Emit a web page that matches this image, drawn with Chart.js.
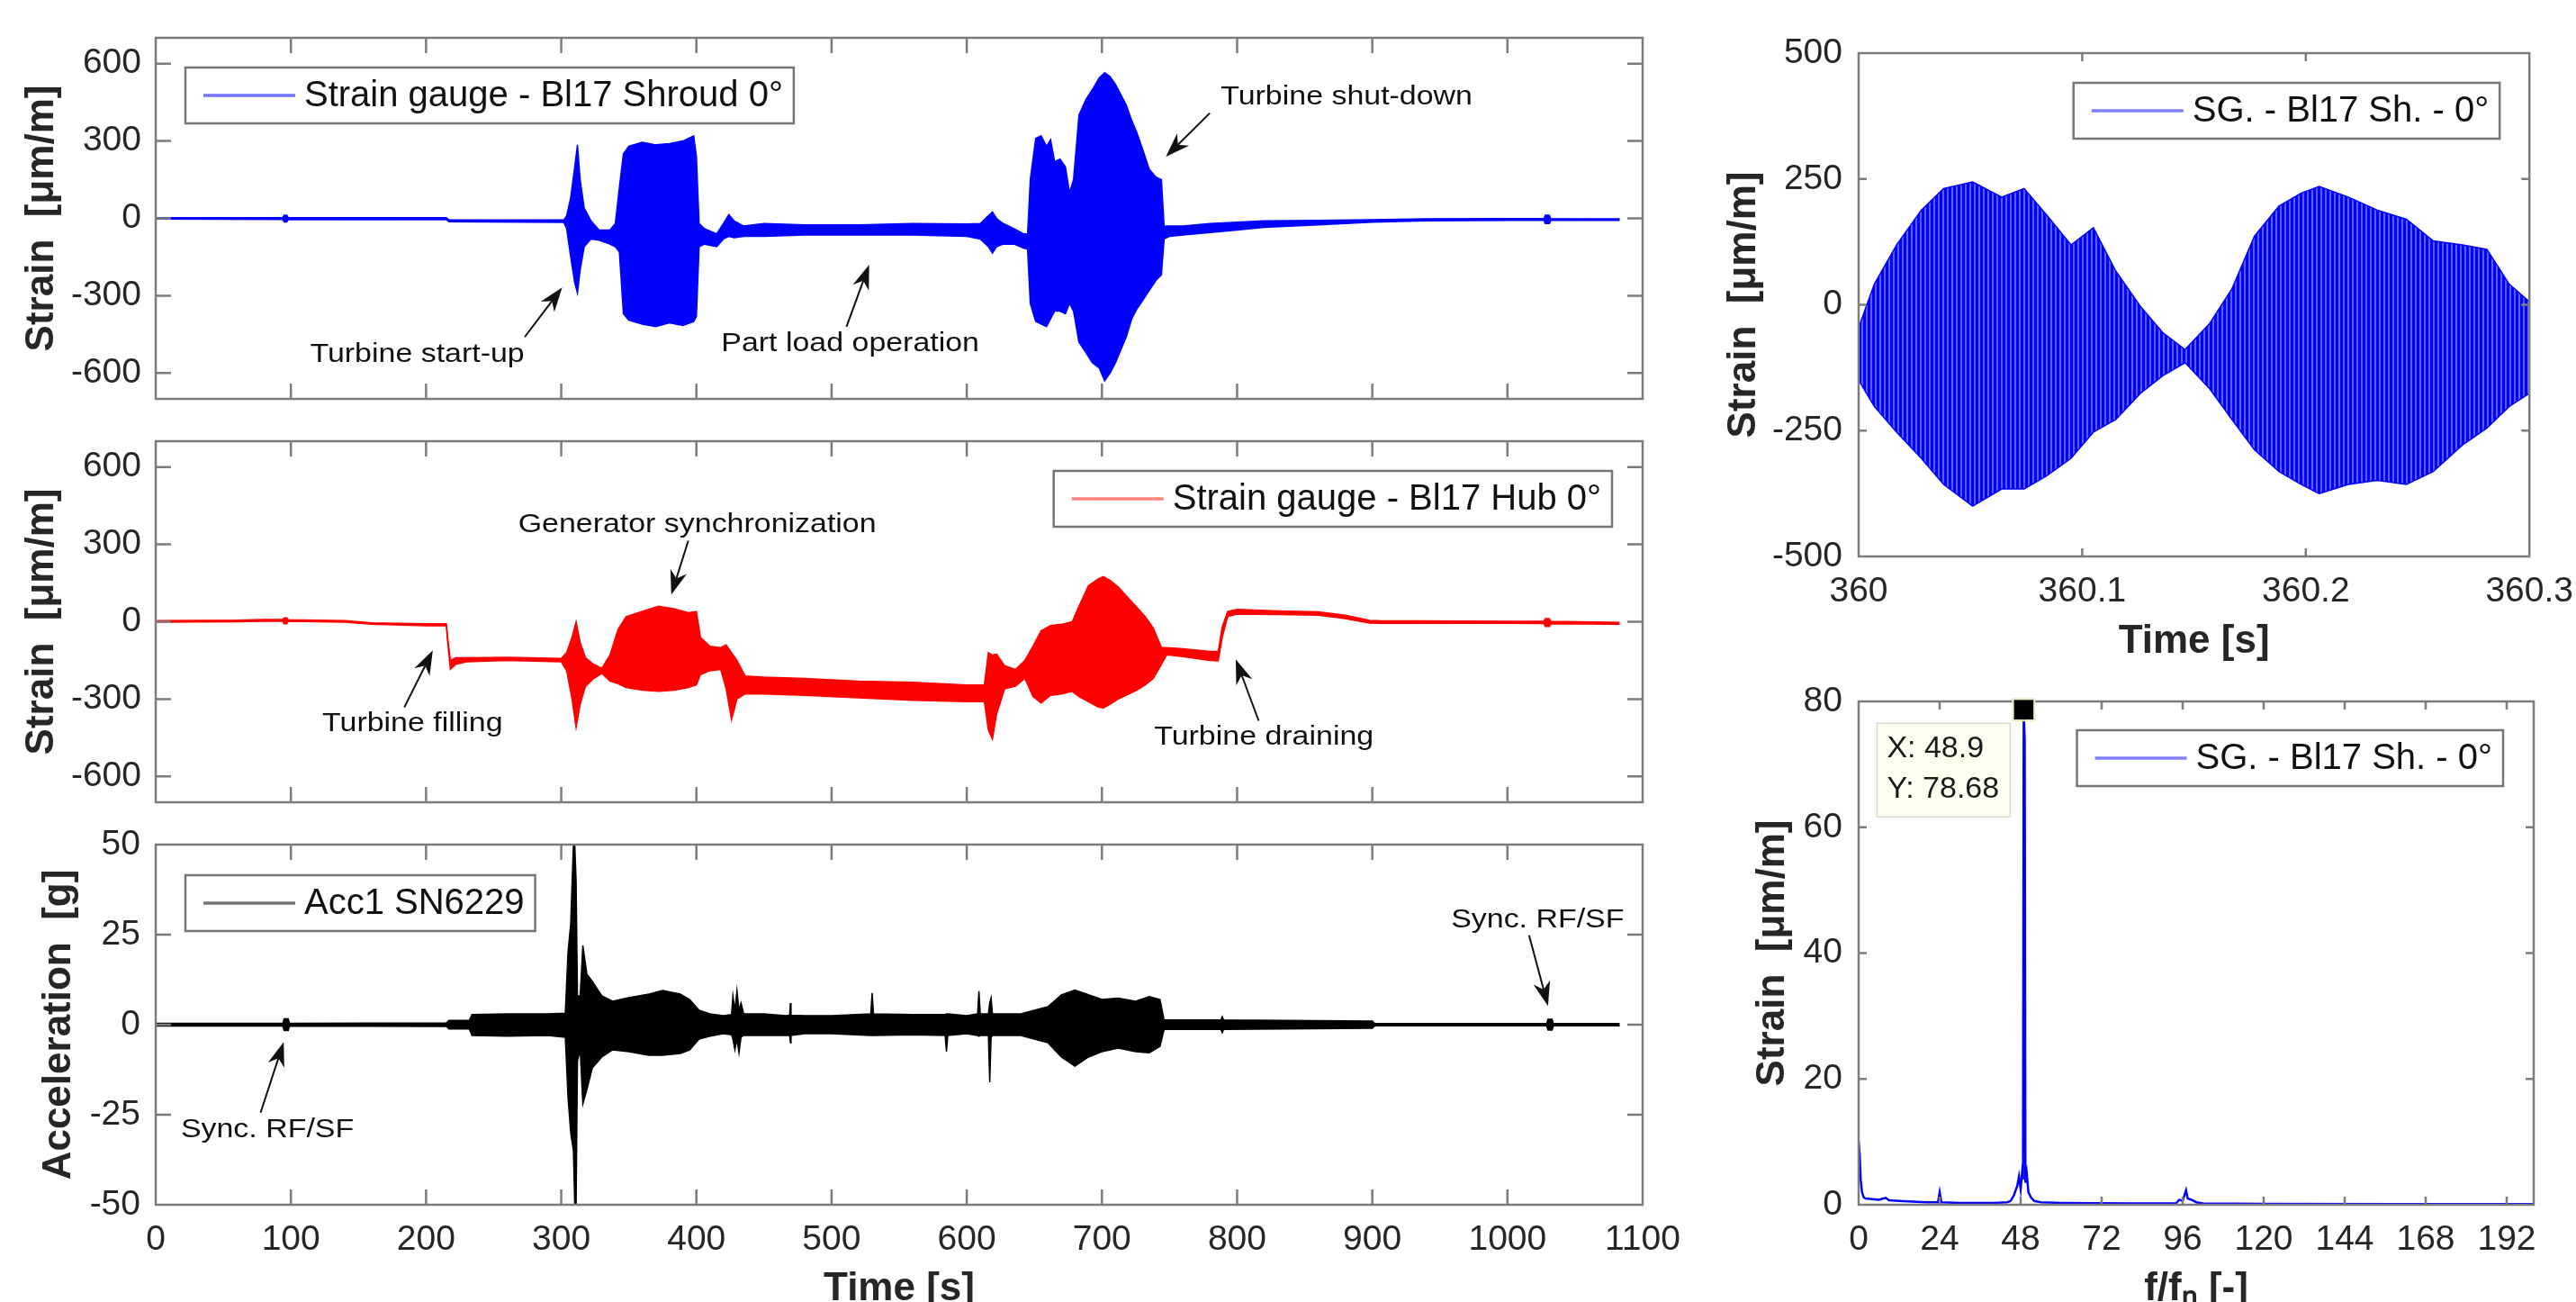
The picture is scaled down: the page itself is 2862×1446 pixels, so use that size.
<!DOCTYPE html>
<html>
<head>
<meta charset="utf-8">
<script src="https://cdn.jsdelivr.net/npm/chart.js@4.4.1/dist/chart.umd.min.js"></script>
<style>
html,body{margin:0;padding:0;width:2862px;height:1446px;overflow:hidden;background:#ffffff;}
canvas{position:absolute;display:block;}
</style>
</head>
<body>
<canvas id="c1"></canvas>
<canvas id="c2"></canvas>
<canvas id="c3"></canvas>
<canvas id="c4"></canvas>
<canvas id="c5"></canvas>
<script>
// ---------------- DATA ----------------
// Panel 1: strain gauge Bl17 Shroud 0° (envelope of the dense signal: max / min per time)
const shroudTime = [0,94,95,97,98,215,217,302,304,307,
  310,312,314,317,322,328,336,340,343,346,
  350,360,370,380,390,398,400,402,406,415,
  420,424,428,435,450,480,520,560,600,610,
  616,619,622,627,635,642,645,647,651,655,
  659,662,665,669,673,676,679,683,688,693,
  698,702,706,710,714,718,722,726,730,735,
  740,744,746,750,760,780,800,820,860,900,
  940,1000,1027,1028,1031,1032,1083];
const shroudMax = [3,3,12,12,3,3,-6,-6,10,80,
  200,285,150,40,-10,-45,-45,-20,120,250,
  280,295,285,290,300,320,240,-20,-40,-60,
  -20,15,-10,-30,-20,-25,-25,-20,-22,-20,
  10,25,0,-20,-40,-60,-60,150,310,320,
  280,305,220,230,200,100,150,400,460,500,
  545,565,550,520,480,440,380,330,270,190,
  160,150,-30,-30,-30,-20,-15,-10,-8,-5,
  -2,-1,-1,12,12,-1,-2];
const shroudMin = [-3,-4,-14,-14,-4,-5,-13,-16,-40,-150,
  -250,-290,-200,-110,-80,-85,-100,-110,-130,-370,
  -395,-410,-420,-405,-415,-400,-380,-110,-100,-110,
  -80,-70,-75,-70,-70,-65,-65,-65,-70,-80,
  -110,-135,-110,-100,-100,-115,-120,-330,-400,-410,
  -420,-390,-360,-360,-370,-330,-360,-480,-520,-560,
  -580,-630,-600,-560,-510,-460,-390,-350,-320,-280,
  -240,-220,-80,-70,-65,-55,-45,-35,-25,-15,
  -10,-8,-8,-20,-20,-8,-8];

// Panel 2: strain gauge Bl17 Hub 0°
const hubTime = [0,60,80,94,95,97,98,140,160,200,
  215,216,218,222,230,260,300,304,308,311,
  314,318,324,330,336,342,348,360,372,384,
  394,400,403,410,418,422,426,430,436,450,
  480,520,560,600,613,616,619,622,628,636,
  643,649,655,662,670,678,683,690,697,701,
  706,712,718,726,732,738,744,748,760,780,
  786,789,793,800,830,860,880,898,905,1000,
  1027,1028,1031,1032,1083];
const hubMax = [4,6,9,9,15,15,8,4,-4,-8,
  -8,-60,-150,-140,-140,-138,-142,-120,-60,0,
  -80,-140,-165,-180,-130,-30,20,40,60,50,
  35,40,-60,-95,-100,-90,-120,-150,-210,-215,
  -220,-230,-235,-245,-245,-120,-130,-125,-170,-185,
  -150,-95,-35,-15,-10,0,60,140,165,175,
  160,135,100,55,20,-25,-100,-100,-105,-115,
  -115,-20,40,48,42,38,25,5,4,2,
  2,12,12,2,-3];
const hubMin = [-2,0,2,2,-8,-8,2,-2,-10,-16,
  -16,-80,-185,-165,-155,-150,-155,-190,-300,-410,
  -320,-250,-220,-200,-230,-240,-255,-265,-270,-265,
  -255,-245,-205,-190,-185,-260,-380,-300,-280,-280,
  -285,-295,-305,-310,-310,-420,-455,-360,-260,-250,
  -220,-290,-315,-285,-280,-270,-290,-310,-330,-335,
  -320,-300,-285,-265,-245,-220,-165,-128,-135,-150,
  -152,-60,20,30,28,25,12,-5,-6,-6,
  -7,-18,-18,-8,-10];

// Panel 3: accelerometer Acc1 SN6229
const accTime = [0,94,95,98,99,215,217,232,234,260,
  290,303,305,307,309,310,311,312,314,316,
  319,323,330,338,350,365,375,388,395,402,
  410,420,426,427,428.5,430,431.5,433,435,450,
  466,469,469.5,470,480,500,529,530,531,560,
  584,585,586,600,608,609,610,616,617,618,
  619,640,650,660,670,680,690,700,712,725,
  735,743,746,788,789,790,900,902,1029,1030,
  1033,1034,1083];
const accMax = [0.4,0.4,1.6,1.6,0.4,0.5,1.2,1.2,2.8,3,
  3,3.2,20,28,50,50,40,8,8,22,
  14,12,8,6.5,7.5,8.5,9.5,8.5,7,4,
  3,2.5,2.8,8,4,9.5,4,6,3,3,
  2.5,2.6,6,2.6,2.5,2.5,3,8.8,3,2.8,
  2.8,3,3,2.5,3,9.3,3,3,6,7.4,
  3,3,4,5,8.3,9.6,8.3,7,7.4,6.5,
  7.8,7,1.3,1.3,2.2,1.3,1,0.3,0.3,1.5,
  1.5,0.3,0.3];
const accMin = [-0.4,-0.4,-1.6,-1.6,-0.4,-0.5,-1.2,-1.2,-3,-3.2,
  -3,-3.5,-20,-30,-35,-50,-50,-10,-7,-22,
  -18,-12,-9,-7,-7.5,-8.5,-8.5,-8,-7,-4,
  -3.2,-2.5,-2.8,-4,-7,-4,-7.8,-3.5,-3,-3,
  -3,-3,-5,-3,-2.5,-2.5,-3,-3,-3,-2.8,
  -3,-7.5,-3,-2.5,-3,-3.2,-3,-3,-16,-3.5,
  -3,-3,-4,-5,-9,-11.5,-9,-7.5,-6.5,-7.5,
  -7.8,-6,-1.3,-1.3,-2.2,-1.3,-1,-0.3,-0.3,-1.5,
  -1.5,-0.3,-0.3];

// Panel 4: zoom 360 - 360.3 s of the shroud gauge (envelope)
const zoomTime = [360.000,360.007,360.017,360.028,360.038,360.051,360.064,360.074,360.084,360.095,
  360.105,360.115,360.126,360.136,360.146,360.157,360.167,360.177,360.188,360.198,
  360.206,360.219,360.232,360.245,360.257,360.270,360.281,360.291,360.300];
const zoomMax = [-45,41,119,188,231,244,214,231,179,119,
  153,67,-3,-55,-89,-37,32,136,196,222,
  235,214,188,170,127,119,110,41,6];
const zoomMin = [-150,-202,-253,-305,-357,-400,-366,-366,-340,-305,
  -253,-228,-176,-141,-115,-167,-228,-288,-331,-357,
  -375,-357,-349,-357,-331,-279,-245,-202,-176];

// Panel 5: spectrum (f/fn vs strain amplitude)
const fftOrder = [0,0.3,0.6,1,1.5,2,4,6,8,9,
  12,16,20,23.5,24,24.5,30,40,44,45,
  46,47,47.5,48,48.4,48.7,48.9,49.2,49.4,49.8,
  50.3,51,52,54,60,80,94,95,96,97,
  97.5,99,100,102,120,160,200];
const fftAmp = [10,8,4,2,1.2,1,0.9,0.8,1.1,0.7,
  0.6,0.5,0.4,0.4,2.0,0.4,0.3,0.3,0.4,0.6,
  1.5,3,4.5,2.5,5,4,78.68,73.9,3.5,5,
  2,1.2,0.6,0.4,0.3,0.2,0.2,0.8,0.6,2.3,
  1.0,0.7,0.4,0.2,0.15,0.12,0.1];

// Tick labels
const timeTicks = [0,100,200,300,400,500,600,700,800,900,1000,1100];
const strainTicks = [-600,-300,0,300,600];
const accTicks = [-50,-25,0,25,50];
const zoomTimeTicks = [360,360.1,360.2,360.3];
const zoomStrainTicks = [-500,-250,0,250,500];
const orderTicks = [0,24,48,72,96,120,144,168,192];
const fftTicks = [0,20,40,60,80];

// Series names
const shroudName = 'Strain gauge - Bl17 Shroud 0°';
const hubName = 'Strain gauge - Bl17 Hub 0°';
const accName = 'Acc1 SN6229';
const zoomName = 'SG. - Bl17 Sh. - 0°';
const fftName = 'SG. - Bl17 Sh. - 0°';

// Annotations (text anchor and arrow in data units)
const shroudNotes = [
  {text:'Turbine start-up', at:[193.5,-530], from:[273,-460], to:[300.7,-268]},
  {text:'Part load operation', at:[513.8,-487], from:[511,-420], to:[527.8,-180]},
  {text:'Turbine shut-down', at:[881,471], from:[779.8,408], to:[747.3,239]}
];
const hubNotes = [
  {text:'Generator synchronization', at:[400.6,377], from:[394,314], to:[381.4,105]},
  {text:'Turbine filling', at:[190,-398], from:[183.9,-332], to:[205,-111]},
  {text:'Turbine draining', at:[819.8,-449], from:[816,-384], to:[799,-146]}
];
const accNotes = [
  {text:'Sync. RF/SF', at:[82.6,-29.3], from:[77.6,-24.4], to:[94.7,-4.8]},
  {text:'Sync. RF/SF', at:[1022.3,29.1], from:[1016,24.8], to:[1030,5.2]}
];

// ---------------- DRAWING ----------------
const FONT = '"Liberation Sans", Arial, Helvetica, sans-serif';
const TEXT_COLOR = '#262626';
const FRAME_COLOR = '#7c7c7c';

function drawArrow(ctx, x0, y0, x1, y1) {
  const ang = Math.atan2(y1 - y0, x1 - x0);
  const L = 27, W = 9.5, N = 0.7;
  const c = Math.cos(ang), s = Math.sin(ang);
  const nx = x1 - c * L * N, ny = y1 - s * L * N;
  ctx.beginPath(); ctx.moveTo(x0, y0); ctx.lineTo(nx, ny); ctx.stroke();
  const bx = x1 - c * L, by = y1 - s * L;
  ctx.beginPath();
  ctx.moveTo(x1, y1);
  ctx.lineTo(bx - s * W, by + c * W);
  ctx.lineTo(nx, ny);
  ctx.lineTo(bx + s * W, by - c * W);
  ctx.closePath(); ctx.fill();
}

const framePlugin = {
  id: 'frame',
  afterDatasetsDraw(chart, args, o) {
    const {ctx, chartArea: a, scales} = chart;
    const tl = o.tickLen || 17;
    ctx.save();
    ctx.strokeStyle = FRAME_COLOR; ctx.lineWidth = 2.5;
    ctx.beginPath();
    scales.x.ticks.forEach(t => {
      const p = scales.x.getPixelForValue(t.value);
      if (p <= a.left + 1 || p >= a.right - 1) return;
      ctx.moveTo(p, a.bottom); ctx.lineTo(p, a.bottom - tl);
      ctx.moveTo(p, a.top); ctx.lineTo(p, a.top + tl);
    });
    scales.y.ticks.forEach(t => {
      const p = scales.y.getPixelForValue(t.value);
      if (p <= a.top + 1 || p >= a.bottom - 1) return;
      ctx.moveTo(a.left, p); ctx.lineTo(a.left + tl, p);
      ctx.moveTo(a.right, p); ctx.lineTo(a.right - tl, p);
    });
    ctx.stroke();
    ctx.strokeRect(a.left, a.top, a.right - a.left, a.bottom - a.top);
    ctx.restore();
  }
};

const legendBoxPlugin = {
  id: 'legendBox',
  afterDraw(chart, args, o) {
    if (!o || !o.show) return;
    const {ctx, chartArea: a} = chart;
    const label = chart.data.datasets[0].label;
    ctx.save();
    ctx.font = '40px ' + FONT;
    const tw = ctx.measureText(label).width;
    const w = 132 + tw + 12, h = 62;
    const x = o.side === 'left' ? a.left + o.dx : a.right - o.dx - w;
    const y = a.top + o.dy;
    ctx.fillStyle = '#ffffff'; ctx.fillRect(x, y, w, h);
    ctx.strokeStyle = '#767676'; ctx.lineWidth = 2.5; ctx.strokeRect(x, y, w, h);
    ctx.strokeStyle = o.color; ctx.lineWidth = 3.5;
    ctx.beginPath(); ctx.moveTo(x + 20, y + h / 2); ctx.lineTo(x + 122, y + h / 2); ctx.stroke();
    ctx.fillStyle = '#111'; ctx.textAlign = 'left'; ctx.textBaseline = 'middle';
    ctx.fillText(label, x + 132, y + h / 2 + 1);
    ctx.restore();
  }
};

const notesPlugin = {
  id: 'notes',
  afterDraw(chart, args, o) {
    if (!o || !o.items) return;
    const {ctx, scales: {x, y}} = chart;
    ctx.save();
    ctx.fillStyle = '#111'; ctx.strokeStyle = '#111'; ctx.lineWidth = 2;
    o.items.forEach(n => {
      const tx = x.getPixelForValue(n.at[0]), ty = y.getPixelForValue(n.at[1]);
      ctx.save();
      ctx.translate(tx, ty); ctx.scale(1.17, 1);
      ctx.font = '29px ' + FONT; ctx.textAlign = 'center'; ctx.textBaseline = 'middle';
      ctx.fillText(n.text, 0, 0);
      ctx.restore();
      drawArrow(ctx, x.getPixelForValue(n.from[0]), y.getPixelForValue(n.from[1]),
                x.getPixelForValue(n.to[0]), y.getPixelForValue(n.to[1]));
    });
    ctx.restore();
  }
};

const datatipPlugin = {
  id: 'datatip',
  afterDraw(chart, args, o) {
    if (!o || !o.show) return;
    const {ctx, scales: {x, y}} = chart;
    const pts = chart.data.datasets[0].data;
    let p = pts[0];
    pts.forEach(q => { if (q.y > p.y) p = q; });
    const px = x.getPixelForValue(p.x), py = y.getPixelForValue(p.y);
    const bx = px - 163, by = py + 15, bw = 148, bh = 104;
    ctx.save();
    ctx.fillStyle = '#fffff0'; ctx.fillRect(bx, by, bw, bh);
    ctx.strokeStyle = '#d9d9cc'; ctx.lineWidth = 1.5; ctx.strokeRect(bx, by, bw, bh);
    ctx.fillStyle = '#1a1a1a'; ctx.font = '34px ' + FONT; ctx.textAlign = 'left'; ctx.textBaseline = 'middle';
    ctx.fillText('X: ' + p.x, bx + 11, py + 43);
    ctx.fillText('Y: ' + p.y, bx + 11, py + 88);
    ctx.fillStyle = '#000'; ctx.fillRect(px - 11, py - 11, 22, 22);
    ctx.strokeStyle = '#eeeabb'; ctx.lineWidth = 2; ctx.strokeRect(px - 12, py - 12, 24, 24);
    ctx.restore();
  }
};

function envelope(label, t, hi, lo, color, bg) {
  return [
    {label: label, data: t.map((v, i) => ({x: v, y: hi[i]})), borderColor: color, borderWidth: 1.5,
     pointRadius: 0, fill: false, tension: 0},
    {label: label + ' (min)', data: t.map((v, i) => ({x: v, y: lo[i]})), borderColor: color, borderWidth: 1.5,
     pointRadius: 0, fill: '-1', backgroundColor: bg, tension: 0}
  ];
}

function stripePattern() {
  const c = document.createElement('canvas'); c.width = 5; c.height = 4;
  const g = c.getContext('2d');
  g.fillStyle = '#5c5cff'; g.fillRect(0, 0, 5, 4);
  g.fillStyle = '#0000ff'; g.fillRect(0, 0, 3, 4);
  return g.createPattern(c, 'repeat');
}

function buildPanel(p) {
  const cv = document.getElementById(p.id);
  cv.width = p.w; cv.height = p.h;
  cv.style.left = p.left + 'px'; cv.style.top = p.top + 'px';
  cv.style.width = p.w + 'px'; cv.style.height = p.h + 'px';
  const tickFont = {family: FONT, size: 39};
  const titleFont = {family: FONT, size: 44, weight: 'bold'};
  return new Chart(cv, {
    type: 'line',
    data: {datasets: p.datasets},
    options: {
      responsive: false, animation: false, devicePixelRatio: 1,
      layout: {padding: {left: 0, top: p.pt, right: p.pr, bottom: 0}},
      plugins: {
        legend: {display: false}, tooltip: {enabled: false},
        frame: {tickLen: p.tickLen},
        legendBox: p.legend,
        notes: {items: p.notes},
        datatip: {show: !!p.datatip}
      },
      scales: {
        x: {
          type: 'linear', min: p.xMin, max: p.xMax,
          afterBuildTicks: s => { s.ticks = p.xTicks.map(v => ({value: v})); },
          afterFit: s => { s.height = p.xh; },
          grid: {display: false, drawTicks: false}, border: {display: false},
          ticks: {display: p.xLabels, padding: 16, font: tickFont, color: TEXT_COLOR,
                  maxRotation: 0, autoSkip: false, callback: v => String(v)},
          title: p.xTitle ? {display: true, text: p.xTitle, font: titleFont, color: TEXT_COLOR,
                  padding: {top: 0, bottom: 0}} : {display: false}
        },
        y: {
          type: 'linear', min: p.yMin, max: p.yMax,
          afterBuildTicks: s => { s.ticks = p.yTicks.map(v => ({value: v})); },
          afterFit: s => { s.width = p.yw; },
          grid: {display: false, drawTicks: false}, border: {display: false},
          ticks: {padding: p.yPad, font: tickFont, color: TEXT_COLOR, autoSkip: false,
                  callback: v => String(v)},
          title: {display: true, text: p.yTitle, font: titleFont, color: TEXT_COLOR,
                  padding: {top: p.yTitlePad, bottom: 0}}
        }
      }
    },
    plugins: [framePlugin, legendBoxPlugin, notesPlugin, datatipPlugin]
  });
}

const fftDataset = [{label: fftName, data: fftOrder.map((v, i) => ({x: v, y: fftAmp[i]})),
  borderColor: '#0000ff', borderWidth: 2.5, pointRadius: 0, fill: false, tension: 0}];

const panels = [
  {id: 'c1', left: 0, top: 0, w: 1885, h: 488, pt: 42, pr: 60, yw: 173, xh: 45,
   xMin: 0, xMax: 1100, xTicks: timeTicks, xLabels: false, xTitle: null,
   yMin: -700, yMax: 700, yTicks: strainTicks, yPad: 16, yTitle: 'Strain  [μm/m]', yTitlePad: 20,
   datasets: envelope(shroudName, shroudTime, shroudMax, shroudMin, '#0000ff', '#0000ff'),
   legend: {show: true, side: 'left', dx: 33, dy: 33, color: 'rgba(0,0,255,0.55)'},
   notes: shroudNotes, tickLen: 17},
  {id: 'c2', left: 0, top: 445, w: 1885, h: 491, pt: 45, pr: 60, yw: 173, xh: 45,
   xMin: 0, xMax: 1100, xTicks: timeTicks, xLabels: false, xTitle: null,
   yMin: -700, yMax: 700, yTicks: strainTicks, yPad: 16, yTitle: 'Strain  [μm/m]', yTitlePad: 20,
   datasets: envelope(hubName, hubTime, hubMax, hubMin, '#ff0000', '#ff0000'),
   legend: {show: true, side: 'right', dx: 34, dy: 33, color: 'rgba(255,0,0,0.5)'},
   notes: hubNotes, tickLen: 17},
  {id: 'c3', left: 0, top: 895, w: 1885, h: 563, pt: 43, pr: 60, yw: 173, xh: 120,
   xMin: 0, xMax: 1100, xTicks: timeTicks, xLabels: true, xTitle: 'Time [s]',
   yMin: -50, yMax: 50, yTicks: accTicks, yPad: 17, yTitle: 'Acceleration  [g]', yTitlePad: 39,
   datasets: envelope(accName, accTime, accMax, accMin, '#000000', '#000000'),
   legend: {show: true, side: 'left', dx: 33, dy: 34, color: 'rgba(0,0,0,0.55)'},
   notes: accNotes, tickLen: 17},
  {id: 'c4', left: 1900, top: 0, w: 975, h: 739, pt: 59, pr: 60, yw: 165, xh: 121,
   xMin: 360, xMax: 360.3, xTicks: zoomTimeTicks, xLabels: true, xTitle: 'Time [s]',
   yMin: -500, yMax: 500, yTicks: zoomStrainTicks, yPad: 18, yTitle: 'Strain  [μm/m]', yTitlePad: 11,
   datasets: envelope(zoomName, zoomTime, zoomMax, zoomMin, '#0000ff', stripePattern()),
   legend: {show: true, side: 'right', dx: 33, dy: 33, color: 'rgba(0,0,255,0.5)'},
   notes: [], tickLen: 9},
  {id: 'c5', left: 1930, top: 735, w: 945, h: 723, pt: 44, pr: 60, yw: 135, xh: 120,
   xMin: 0, xMax: 200, xTicks: orderTicks, xLabels: true, xTitle: 'f/fₙ [-]',
   yMin: 0, yMax: 80, yTicks: fftTicks, yPad: 18, yTitle: 'Strain  [μm/m]', yTitlePad: 13,
   datasets: fftDataset,
   legend: {show: true, side: 'right', dx: 34, dy: 32, color: 'rgba(0,0,255,0.5)'},
   notes: [], tickLen: 9, datatip: true}
];

panels.forEach(buildPanel);
</script>
</body>
</html>
